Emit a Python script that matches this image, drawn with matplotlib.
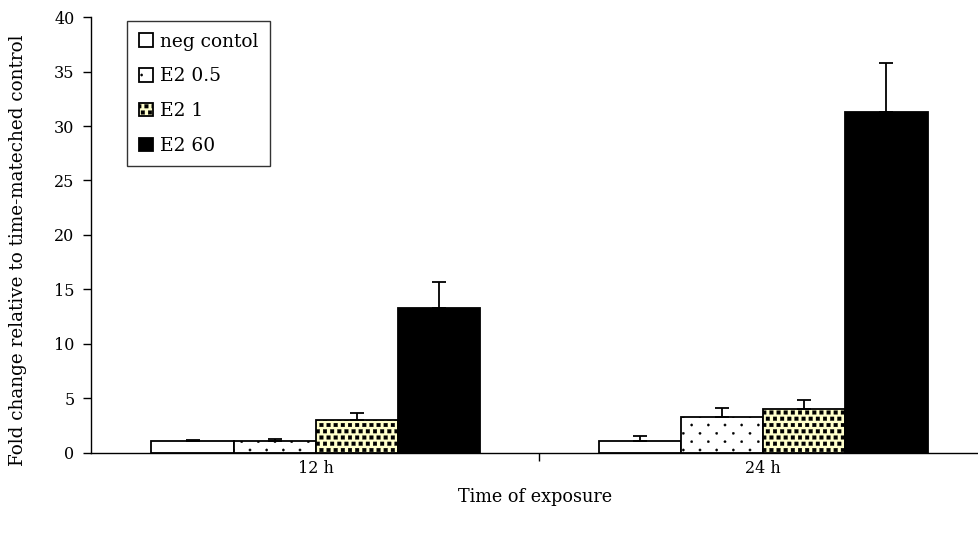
import matplotlib
matplotlib.use("Agg")
import matplotlib.pyplot as plt
import matplotlib.hatch as mhatch
from matplotlib.path import Path
import numpy as np

plt.rcParams['font.family'] = ['DejaVu Serif', 'Liberation Serif']
plt.rcParams['hatch.linewidth'] = 0.2


# ---- custom hatch patterns (sparse tiny dots, dense squares) ----
class _Staggered(mhatch.HatchPatternBase):
    """Staggered grid of filled shapes with separate x/y spacing."""
    char = '.'
    ncols_per = 1
    rows_per = 1
    size = 0.3  # relative to column spacing
    shape = None

    def __init__(self, hatch, density):
        k = hatch.count(self.char)
        self.ncols = k * self.ncols_per
        self.nrows = k * self.rows_per
        if k == 0:
            self.num_vertices = 0
            return
        self.num_shapes = (self.nrows // 2 + 1) * (self.ncols + 1) + (self.nrows // 2) * self.ncols
        self.num_vertices = self.num_shapes * len(self.shape.vertices)

    def set_vertices_and_codes(self, vertices, codes):
        dx = 1.0 / self.ncols
        dy = 1.0 / self.nrows
        sv = self.shape.vertices * dx * self.size
        sc = self.shape.codes
        vparts, cparts = [], []
        for row in range(self.nrows + 1):
            if row % 2 == 0:
                cols = np.linspace(0, 1, self.ncols + 1)
            else:
                cols = np.linspace(dx / 2, 1 - dx / 2, self.ncols)
            for c in cols:
                vparts.append(sv + [c, row * dy])
                cparts.append(sc)
        vparts = np.concatenate(vparts)
        cparts = np.concatenate(cparts)
        vertices[:len(vparts)] = vparts
        codes[:len(cparts)] = cparts


_sq = Path(np.array([[-0.5, -0.5], [0.5, -0.5], [0.5, 0.5], [-0.5, 0.5], [-0.5, -0.5]]),
           [Path.MOVETO, Path.LINETO, Path.LINETO, Path.LINETO, Path.CLOSEPOLY])


class TinyDots(_Staggered):
    char = '.'
    ncols_per = 6
    rows_per = 12
    size = 0.07
    shape = Path.unit_circle()


class DenseSquares(_Staggered):
    char = '*'
    ncols_per = 14
    rows_per = 16
    size = 0.52
    shape = _sq


mhatch._hatch_types = [h for h in mhatch._hatch_types
                       if h not in (mhatch.SmallFilledCircles, mhatch.Stars)]
mhatch._hatch_types += [TinyDots, DenseSquares]

# ---- data ----
groups = ['12 h', '24 h']
series = ['neg contol', 'E2 0.5', 'E2 1', 'E2 60']
values = {
    'neg contol': [1.05, 1.05],
    'E2 0.5': [1.05, 3.3],
    'E2 1': [3.0, 4.0],
    'E2 60': [13.3, 31.3],
}
errors = {
    'neg contol': [0.1, 0.45],
    'E2 0.5': [0.25, 0.85],
    'E2 1': [0.7, 0.85],
    'E2 60': [2.35, 4.5],
}
faces = ['white', 'white', '#FFFFCC', 'black']
hatches = [None, '.', '*', None]

fig = plt.figure(figsize=(9.79, 5.34), dpi=100)
ax = fig.add_axes([0.093, 0.152, 0.907, 0.816])

x = np.arange(len(groups))
w = 0.184
offsets = [-1.5 * w, -0.5 * w, 0.5 * w, 1.5 * w]
for i, s in enumerate(series):
    kw = {}
    if hatches[i]:
        kw['hatch'] = hatches[i]
    ax.bar(x + offsets[i], values[s], width=w, color=faces[i],
           edgecolor='black', linewidth=1.3, label=s, zorder=2, **kw)
    ax.errorbar(x + offsets[i], values[s],
                yerr=[np.zeros(len(groups)), errors[s]],
                fmt='none', ecolor='black', elinewidth=1.3, capsize=4.7,
                capthick=1.3, zorder=3)

ax.set_ylim(0, 40)
ax.set_yticks(np.arange(0, 41, 5))
ax.set_xlim(-0.503, 1.483)
ax.set_xticks(x)
ax.set_xticklabels(groups)
ax.tick_params(axis='x', length=0, pad=5, labelsize=11.5)
ax.set_xticks([0.5], minor=True)
ax.tick_params(axis='x', which='minor', length=6, direction='out', width=1)
ax.tick_params(axis='y', length=6, direction='out', width=1, labelsize=11.5, pad=6)

for sp in ['top', 'right']:
    ax.spines[sp].set_visible(False)
for sp in ['left', 'bottom']:
    ax.spines[sp].set_linewidth(1)
    ax.spines[sp].set_color('black')

ax.set_xlabel('Time of exposure', fontsize=12.7)
ax.xaxis.set_label_coords(0.5, -0.08)
ax.set_ylabel('Fold change relative to time-mateched control', fontsize=13.2)
ax.yaxis.set_label_coords(-0.072, 0.466)

leg = ax.legend(loc='upper left', bbox_to_anchor=(0.041, 0.99), frameon=True,
                fancybox=False, edgecolor='black', fontsize=13.4,
                handlelength=0.75, handleheight=0.75, handletextpad=0.4,
                labelspacing=0.9, borderpad=0.6, borderaxespad=0)
leg.get_frame().set_linewidth(1)

fig.savefig('out.png', dpi=100)
